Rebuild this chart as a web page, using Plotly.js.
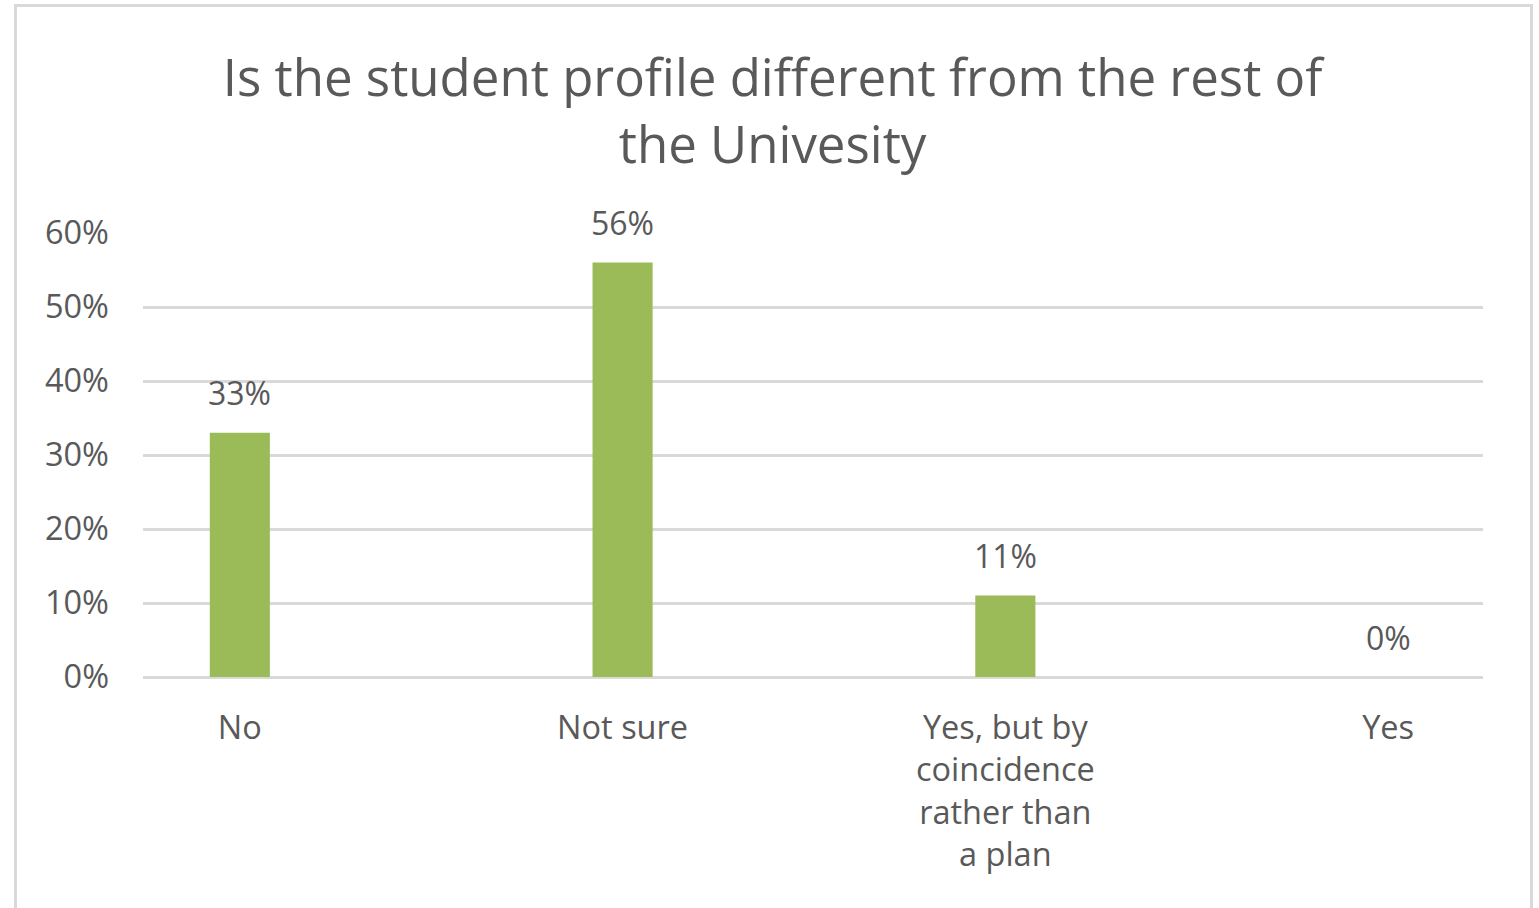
<!DOCTYPE html>
<html>
<head>
<meta charset="utf-8">
<script src="https://cdn.plot.ly/plotly-3.0.1.min.js"></script>
<style>
html,body{margin:0;padding:0;background:#fff;}
#wrap{position:relative;width:1539px;height:908px;overflow:hidden;}
#chart{position:absolute;left:0;top:0;width:1539px;height:908px;}
#frame{position:absolute;left:14px;top:4px;width:1513px;height:920px;border:3px solid #d9d9d9;pointer-events:none;}
</style>
</head>
<body>
<div id="wrap"><div id="chart"></div><div id="frame"></div></div>
<script>
const categories = ["No", "Not sure", "Yes, but by<br>coincidence<br>rather than<br>a plan", "Yes"];
const values = [0.33, 0.56, 0.11, 0.00];
const valueLabels = ["33%", "56%", "11%", "0%"];
const yTickVals = [0, 0.1, 0.2, 0.3, 0.4, 0.5, 0.6];
const yTickText = ["0%", "10%", "20%", "30%", "40%", "50%", "60%"];
const titleText = "Is the student profile different from the rest of<br>the Univesity";

const fontFam = "'Open Sans', 'Noto Sans', sans-serif";
const textColor = "#595959";

const trace = {
  type: "bar",
  x: categories,
  y: values,
  marker: {color: "#9bbb59"},
  width: 0.157,
  hoverinfo: "none"
};

const annotations = categories.map((c, i) => ({
  x: c, y: values[i], xref: "x", yref: "y",
  text: valueLabels[i], showarrow: false,
  xanchor: "center", yanchor: "middle", yshift: 40,
  font: {family: fontFam, size: 32, color: textColor}
}));

const layout = {
  width: 1539, height: 908,
  margin: {l: 143, r: 56, t: 233, b: 231},
  paper_bgcolor: "#fff", plot_bgcolor: "#fff",
  showlegend: false,
  annotations: annotations,
  title: {
    text: titleText,
    font: {family: fontFam, size: 51, color: textColor},
    x: 0.502, xanchor: "center",
    y: 0.894, yanchor: "middle", yref: "container"
  },
  xaxis: {
    type: "category",
    range: [-0.253, 3.248],
    showgrid: false, zeroline: false, showline: false,
    ticks: "outside", ticklen: 22, tickcolor: "rgba(0,0,0,0)",
    tickfont: {family: fontFam, size: 32.5, color: textColor}
  },
  yaxis: {
    range: [0, 0.6],
    tickvals: yTickVals, ticktext: yTickText,
    showgrid: true, gridcolor: "#d9d9d9", gridwidth: 3,
    zeroline: true, zerolinecolor: "#d9d9d9", zerolinewidth: 3,
    showline: false,
    ticks: "", ticklabelstandoff: 33,
    tickfont: {family: fontFam, size: 32.5, color: textColor}
  }
};

Plotly.newPlot("chart", [trace], layout, {displayModeBar: false, staticPlot: true});
</script>
</body>
</html>
